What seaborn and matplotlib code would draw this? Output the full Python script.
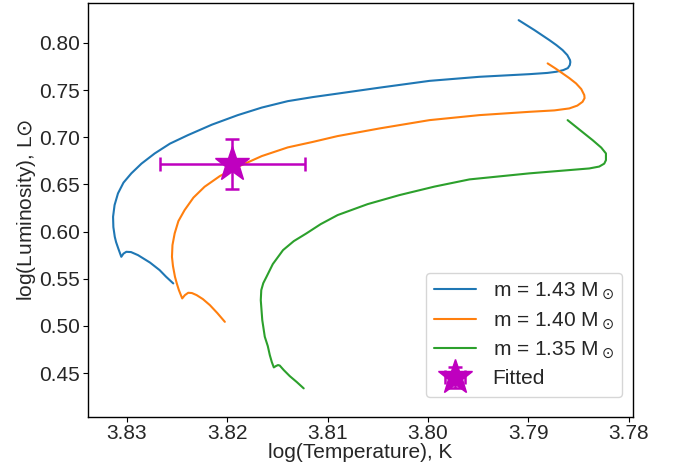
import numpy as np
import pandas as pd
import matplotlib
matplotlib.use("Agg")
import matplotlib.pyplot as plt
import seaborn as sns

# evolutionary tracks (log T, log L)
logt_143 = [3.82539, 3.82612, 3.82675, 3.82771, 3.82891, 3.82960, 3.83007, 3.83035,
            3.83057, 3.83085, 3.83109, 3.83122, 3.83136, 3.83139, 3.83124, 3.83090,
            3.83035, 3.82957, 3.82856, 3.82724, 3.82572, 3.82393, 3.82154, 3.81896,
            3.81657, 3.81398, 3.81149, 3.80901, 3.80483, 3.79985, 3.79488, 3.78990,
            3.78811, 3.78724, 3.78652, 3.78607, 3.78587, 3.78582, 3.78585, 3.78612,
            3.78659, 3.78721, 3.78791, 3.78940, 3.79097]
logl_143 = [0.5451, 0.5523, 0.5592, 0.5672, 0.5751, 0.5783, 0.5786, 0.5767,
            0.5733, 0.5815, 0.5889, 0.5945, 0.6048, 0.6157, 0.6281, 0.6405,
            0.6519, 0.6617, 0.6720, 0.6828, 0.6932, 0.7022, 0.7133, 0.7234,
            0.7314, 0.7382, 0.7425, 0.7462, 0.7525, 0.7597, 0.7640, 0.7668,
            0.7681, 0.7693, 0.7711, 0.7732, 0.7764, 0.7796, 0.7817, 0.7870,
            0.7923, 0.7976, 0.8029, 0.8135, 0.8240]

logt_140 = [3.82025, 3.82100, 3.82174, 3.82244, 3.82306, 3.82353, 3.82390, 3.82423,
            3.82450, 3.82483, 3.82502, 3.82522, 3.82542, 3.82552, 3.82547, 3.82525,
            3.82488, 3.82426, 3.82338, 3.82227, 3.82075, 3.81896, 3.81657, 3.81398,
            3.81149, 3.80901, 3.80483, 3.79985, 3.79488, 3.78990, 3.78741, 3.78592,
            3.78512, 3.78460, 3.78440, 3.78443, 3.78473, 3.78525, 3.78592, 3.78659,
            3.78731, 3.78808]
logl_140 = [0.5044, 0.5137, 0.5221, 0.5285, 0.5327, 0.5349, 0.5352, 0.5327,
            0.5292, 0.5380, 0.5444, 0.5521, 0.5635, 0.5733, 0.5857, 0.5981,
            0.6111, 0.6228, 0.6360, 0.6475, 0.6588, 0.6686, 0.6800, 0.6892,
            0.6950, 0.7012, 0.7093, 0.7181, 0.7234, 0.7269, 0.7284, 0.7305,
            0.7335, 0.7375, 0.7414, 0.7446, 0.7510, 0.7570, 0.7626, 0.7676,
            0.7729, 0.7782]

logt_135 = [3.81239, 3.81308, 3.81378, 3.81438, 3.81478, 3.81495, 3.81517, 3.81537,
            3.81557, 3.81577, 3.81597, 3.81627, 3.81652, 3.81667, 3.81662, 3.81642,
            3.81610, 3.81547, 3.81445, 3.81338, 3.81212, 3.81070, 3.80901, 3.80602,
            3.80284, 3.79935, 3.79587, 3.78990, 3.78393, 3.78294, 3.78244, 3.78227,
            3.78227, 3.78274, 3.78360, 3.78473, 3.78609]
logl_135 = [0.4339, 0.4406, 0.4469, 0.4533, 0.4581, 0.4586, 0.4575, 0.4561,
            0.4618, 0.4692, 0.4787, 0.4886, 0.5062, 0.5274, 0.5380, 0.5454,
            0.5521, 0.5656, 0.5804, 0.5899, 0.5981, 0.6079, 0.6175, 0.6291,
            0.6387, 0.6477, 0.6553, 0.6617, 0.6669, 0.6689, 0.6720, 0.6757,
            0.6828, 0.6890, 0.6969, 0.7065, 0.7181]

track_labels = [r"m = 1.43 M$_\odot$", r"m = 1.40 M$_\odot$", r"m = 1.35 M$_\odot$"]

# fitted point with errors
fit_t, fit_t_err = 3.8195, 0.0072
fit_l, fit_l_err = 0.672, 0.0265

frames = []
for lab, t, l in zip(track_labels, [logt_143, logt_140, logt_135],
                     [logl_143, logl_140, logl_135]):
    frames.append(pd.DataFrame({"logT": t, "logL": l, "track": lab}))
df = pd.concat(frames, ignore_index=True)

sns.set_style("ticks")
plt.rcParams["font.family"] = ["Liberation Sans", "DejaVu Sans"]
plt.rcParams["mathtext.fontset"] = "dejavusans"

fig, ax = plt.subplots(figsize=(6.76, 4.66), dpi=100)
fig.subplots_adjust(left=0.130, right=0.936, bottom=0.106, top=0.994)

sns.lineplot(data=df, x="logT", y="logL", hue="track", sort=False, estimator=None,
             palette=sns.color_palette("tab10", 3), linewidth=1.5, ax=ax)

ax.errorbar(fit_t, fit_l, xerr=fit_t_err, yerr=fit_l_err, fmt="*", color="m",
            markersize=26, capsize=5, elinewidth=1.8, capthick=1.8, label="Fitted")

ax.set_xlim(3.8339, 3.7796)
ax.set_ylim(0.404, 0.8424)
ax.set_xticks([3.83, 3.82, 3.81, 3.80, 3.79, 3.78])
ax.set_yticks([0.45, 0.50, 0.55, 0.60, 0.65, 0.70, 0.75, 0.80])
ax.tick_params(labelsize=15, color="black", length=3.5, width=0.8, pad=2)
for s in ax.spines.values():
    s.set_color("black")
    s.set_linewidth(1.0)

ax.set_xlabel("log(Temperature), K", fontsize=15, labelpad=0)
ax.set_ylabel(r"log(Luminosity), L$\odot$", fontsize=15, labelpad=1)

ax.legend(loc="lower right", bbox_to_anchor=(0.98, 0.048), borderaxespad=0,
          fontsize=15, title=None, labelspacing=0.4)

plt.savefig("out.png", dpi=100)
plt.close()
